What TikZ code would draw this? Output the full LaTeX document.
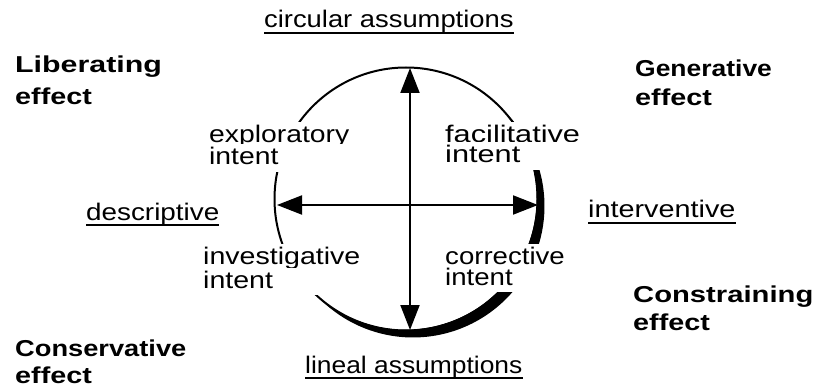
\documentclass[tikz,border=0pt]{standalone}
\usepackage{fontspec}
\usepackage{graphicx}
\setmainfont{Liberation Sans}
\usetikzlibrary{arrows.meta,calc}
\newcommand{\RegW}[2][1.15]{\scalebox{#1}[1]{#2}}
\newcommand{\BoldW}[2][1.22]{\scalebox{#1}[1]{#2}}
\begin{document}
\begin{tikzpicture}[x=1pt,y=1pt,
  reg/.style={font=\fontsize{24}{24}\selectfont, inner sep=0pt, anchor=base west},
  bld/.style={font=\fontsize{23}{23}\selectfont\bfseries, inner sep=0pt, anchor=base west},
  intentbox/.style={reg, fill=white, inner xsep=0pt, inner ysep=3pt, text height=17.5pt, text depth=3.6pt},
  ul/.style={line width=1.8pt},
  axis/.style={line width=2pt, {Triangle[length=25pt,width=19pt]}-{Triangle[length=25pt,width=19pt]}},
  rim/.style={line width=2pt}]
\useasboundingbox (0,0) rectangle (816,386);
% circle and thick crescent (inner centre (406,187), outer centre (413,180))
\draw[rim] (406,187) circle[radius=131.5];
\fill (413,180) ++(47.4:131.5) arc[start angle=47.4, end angle=-137.4, radius=131.5]
      arc[start angle=-132.6, end angle=42.6, radius=131.5] -- cycle;
% axis labels
\node[reg] (ca) at (264,358) {\RegW[1.14]{circular assumptions}};
\node[reg] (la) at (305,13) {\RegW[1.10]{lineal assumptions}};
\node[reg] (de) at (86,166) {\RegW[1.16]{descriptive}};
\node[reg] (iv) at (588,168) {\RegW[1.20]{interventive}};
\foreach \n in {ca,la,de,iv}
  \draw[ul] ($(\n.base west)+(0,-5)$) -- ($(\n.base east)+(0,-5)$);
% quadrant intents
\node[intentbox] (ex1) at (209,243) {\RegW[1.18]{exploratory}};
\node[intentbox] (ex2) at (209,221) {\RegW[1.18]{\rlap{intent}\phantom{exploratory}}};
\node[intentbox] (fa1) at (445,243) {\RegW[1.28]{facilitative}};
\node[intentbox] (fa2) at (445,223) {\RegW[1.28]{\rlap{intent}\phantom{facilitative}}};
\node[intentbox] (in1) at (203,122) {\RegW[1.19]{investigative}};
\node[intentbox] (in2) at (203,98) {\RegW[1.19]{\rlap{intent}\phantom{investigative}}};
\node[intentbox] (co1) at (445,122) {\RegW[1.15]{corrective}};
\node[intentbox] (co2) at (445,101) {\RegW[1.15]{\rlap{intent}\phantom{corrective}}};
% effects
\node[bld] (li1) at (15,313) {\BoldW[1.32]{Liberating}};
\node[bld] (li2) at (15,281) {\BoldW[1.25]{effect}};
\node[bld] (ge1) at (635,309) {\BoldW[1.15]{Generative}};
\node[bld] (ge2) at (635,280) {\BoldW[1.25]{effect}};
\node[bld] (cn1) at (633,84) {\BoldW[1.27]{Constraining}};
\node[bld] (cn2) at (633,56) {\BoldW[1.25]{effect}};
\node[bld] (cs1) at (15,30) {\BoldW[1.185]{Conservative}};
\node[bld] (cs2) at (15,3) {\BoldW[1.25]{effect}};
% axes
\coordinate (vt) at (410,318);
\coordinate (vb) at (410,56);
\coordinate (hl) at (277,181);
\coordinate (hr) at (538,181);
\draw[axis] (vt) -- (vb);
\draw[axis] (hl) -- (hr);
\end{tikzpicture}
\end{document}
